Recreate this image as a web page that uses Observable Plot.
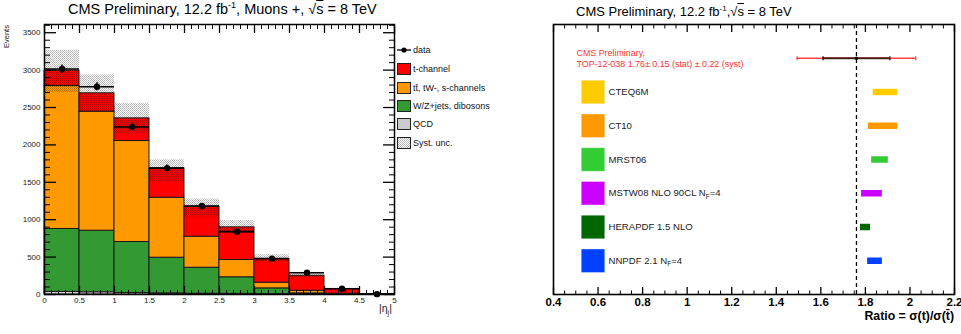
<!DOCTYPE html>
<html><head><meta charset="utf-8">
<script src="https://cdn.jsdelivr.net/npm/d3@7"></script>
<script src="https://cdn.jsdelivr.net/npm/@observablehq/plot@0.6"></script>
<style>
body{margin:0;background:#fff;font-family:"Liberation Sans",Arial,Helvetica,sans-serif;}
#wrap{position:relative;width:961px;height:334px;overflow:hidden;background:#fff}
.abs{position:absolute;white-space:nowrap;color:#000}
.leg{position:absolute;left:397px;height:12px;font-size:9px;line-height:12px;color:#111;white-space:nowrap}
.sw{position:absolute;left:0;top:0;width:14px;height:12px;box-sizing:border-box;border:1px solid #222}
.lt{position:absolute;left:16px;top:0}
</style></head><body>
<div id="wrap">
  <div id="left" style="position:absolute;left:0;top:0"></div>
  <div id="right" style="position:absolute;left:500px;top:0"></div>
  <div class="abs" style="left:68px;top:0px;font-size:14.5px;line-height:18px">CMS Preliminary, 12.2 fb<sup style="font-size:9px;line-height:0">-1</sup>, Muons +, √<span style="text-decoration:overline">s</span> = 8 TeV</div>
  <div class="abs" style="left:2px;top:21px;font-size:7.5px;transform-origin:0 0;transform:translate(0,27px) rotate(-90deg);color:#222">Events</div>
  <div class="abs" style="left:379px;top:302px;font-size:10.5px;color:#222">|η<sub style="font-size:7px">j</sub>|</div>
  <div id="legend"></div>
  <div class="abs" style="left:576px;top:4px;font-size:13px;line-height:16px">CMS Preliminary, 12.2 fb<sup style="font-size:8px;line-height:0">-1</sup>,√<span style="text-decoration:overline">s</span> = 8 TeV</div>
  <div class="abs" style="right:7px;top:309px;font-size:12.3px;font-weight:bold">Ratio = σ(t)/σ(t̄)</div>
</div>
<script>
// ---------- Left panel data ----------
const binLo = [0, 0.5, 1, 1.5, 2, 2.5, 3, 3.5, 4, 4.5];
const binHi = [0.5, 1, 1.5, 2, 2.5, 3, 3.5, 4, 4.5, 5];
const qcd   = [35, 30, 20, 15, 10, 8, 5, 3, 1, 0];
const wz    = [841, 823, 682, 477, 348, 222, 77, 12, 2, 0];
const ttbar = [1911, 1591, 1350, 802, 415, 231, 76, 35, 7, 1];
const tchan = [205, 246, 303, 393, 401, 437, 317, 201, 61, 2];
const dataVals = [3015, 2778, 2240, 1690, 1183, 840, 479, 291, 76, 5];
const dataErr  = [55, 53, 47, 41, 34, 29, 22, 17, 9, 2];
const systLo = [2700, 2445, 2155, 1505, 1040, 809, 430, 215, 55, 0];
const systHi = [3265, 2935, 2556, 1800, 1277, 987, 532, 297, 85, 5];
const processes = ["QCD", "W/Z+jets, dibosons", "tt̄, tW-, s-channels", "t-channel"];
const processColors = ["#cccccc", "#339933", "#ff9900", "#ff0000"];
const processValues = [qcd, wz, ttbar, tchan];
const yTicksLeft = [0, 500, 1000, 1500, 2000, 2500, 3000, 3500];
const xTicksLeft = [0, 0.5, 1, 1.5, 2, 2.5, 3, 3.5, 4, 4.5, 5];

// ---------- Right panel data ----------
const pdfNames  = ["CTEQ6M", "CT10", "MRST06", "MSTW08 NLO 90CL N_F=4", "HERAPDF 1.5 NLO", "NNPDF 2.1 N_F=4"];
const pdfRow    = [2, 3, 4, 5, 6, 7];
const pdfLo     = [1.835, 1.813, 1.828, 1.783, 1.778, 1.810];
const pdfHi     = [1.945, 1.945, 1.903, 1.876, 1.823, 1.876];
const pdfColors = ["#ffcc00", "#ff9900", "#33cc33", "#cc00ff", "#006600", "#0040ff"];
const measValue = 1.76, measStat = 0.15, measSyst = 0.22, measRow = 1;
const measText = "CMS Preliminary,\nTOP-12-038 1.76± 0.15 (stat) ± 0.22 (syst)";
const xTicksRight = [0.4, 0.6, 0.8, 1, 1.2, 1.4, 1.6, 1.8, 2, 2.2];

// ---------- build tables ----------
const stackRows = [];
processes.forEach((p, j) => binLo.forEach((lo, i) => stackRows.push({lo, hi: binHi[i], v: processValues[j][i], p, c: processColors[j]})));
const bins = binLo.map((lo, i) => ({lo, hi: binHi[i], mid: (lo + binHi[i]) / 2, d: dataVals[i], e: dataErr[i], s1: systLo[i], s2: systHi[i]}));
const minorY = d3.range(0, 3601, 100).filter(v => v % 500 !== 0);
const minorX = d3.range(0, 51, 1).map(v => v / 10).filter(v => (v * 10) % 5 !== 0);

const patternDef = '<pattern id="ID" width="2" height="2" patternUnits="userSpaceOnUse"><rect x="0" y="0" width="1" height="1" fill="#000" fill-opacity="0.3"/><rect x="1" y="1" width="1" height="1" fill="#000" fill-opacity="0.24"/></pattern>';

const font = "Liberation Sans, Arial, Helvetica, sans-serif";
const left = Plot.plot({
  width: 520, height: 334, marginLeft: 44, marginRight: 126, marginTop: 24, marginBottom: 40,
  style: {fontFamily: font, background: "transparent", overflow: "visible"},
  x: {domain: [0, 5]},
  y: {domain: [0, 3610]},
  marks: [
    Plot.rectY(stackRows, {x1: "lo", x2: "hi", y: "v", fill: "c", stroke: "#1a1a1a", strokeWidth: 1}),
    Plot.rectY(bins, {x1: "lo", x2: "hi", y1: "s1", y2: "s2", fill: "url(#dots)"}),
    Plot.ruleY(bins, {y: "d", x1: "lo", x2: "hi", stroke: "#000", strokeWidth: 1.6}),
    Plot.ruleX(bins, {x: "mid", y1: d => d.d - d.e, y2: d => d.d + d.e, stroke: "#000", strokeWidth: 1.6}),
    Plot.dot(bins, {x: "mid", y: "d", r: 3.2, fill: "#000"}),
    Plot.axisY({ticks: yTicksLeft, tickSize: 0, tickPadding: 4, fontSize: 8, label: null, fill: "#222", tickFormat: d => String(d)}),
    Plot.axisY({ticks: yTicksLeft, tickSize: -12, tickFormat: () => "", label: null, strokeWidth: 1.3}),
    Plot.axisY({ticks: minorY, tickSize: -6, tickFormat: () => "", label: null}),
    Plot.axisY({anchor: "right", ticks: yTicksLeft, tickSize: -12, tickFormat: () => "", label: null, strokeWidth: 1.3}),
    Plot.axisY({anchor: "right", ticks: minorY, tickSize: -6, tickFormat: () => "", label: null}),
    Plot.axisX({ticks: xTicksLeft, tickSize: 0, tickPadding: 3, fontSize: 8, label: null, fill: "#222", tickFormat: d => String(d)}),
    Plot.axisX({ticks: xTicksLeft, tickSize: -8, tickFormat: () => "", label: null, strokeWidth: 1.3}),
    Plot.axisX({ticks: minorX, tickSize: -4, tickFormat: () => "", label: null}),
    Plot.axisX({anchor: "top", ticks: xTicksLeft, tickSize: -8, tickFormat: () => "", label: null, strokeWidth: 1.3}),
    Plot.axisX({anchor: "top", ticks: minorX, tickSize: -4, tickFormat: () => "", label: null}),
    Plot.frame({stroke: "#000", strokeWidth: 1.5})
  ]
});
left.insertAdjacentHTML("afterbegin", '<defs>' + patternDef.replace("ID", "dots") + '</defs>');
document.getElementById("left").appendChild(left);

// legend (left panel)
const legItems = [
  {t: "data", type: "data", y: 50},
  {t: processes[3], c: processColors[3], y: 69},
  {t: processes[2], c: processColors[2], y: 88},
  {t: processes[1], c: processColors[1], y: 106},
  {t: processes[0], c: processColors[0], y: 124},
  {t: "Syst. unc.", type: "syst", y: 143}
];
const leg = document.getElementById("legend");
legItems.forEach(it => {
  const d = document.createElement("div");
  d.className = "leg";
  d.style.top = (it.y - 6) + "px";
  let sw;
  if (it.type === "data") {
    sw = '<svg class="sw" style="border:none" width="14" height="12"><line x1="0" x2="14" y1="6" y2="6" stroke="#000" stroke-width="1.3"/><circle cx="7" cy="6" r="2.6" fill="#000"/></svg>';
  } else if (it.type === "syst") {
    sw = '<svg class="sw" width="14" height="12"><defs>' + patternDef.replace("ID", "dots2") + '</defs><rect width="14" height="12" fill="url(#dots2)"/></svg>';
  } else {
    sw = `<div class="sw" style="background:${it.c}"></div>`;
  }
  d.innerHTML = sw + `<span class="lt">${it.t}</span>`;
  leg.appendChild(d);
});

// ---------- right panel ----------
const pdfs = pdfNames.map((name, i) => ({name, row: pdfRow[i], lo: pdfLo[i], hi: pdfHi[i], c: pdfColors[i]}));
const totErr = Math.sqrt(measStat * measStat + measSyst * measSyst);
const meas = [{v: measValue, row: measRow, t: measText, lo: measValue - totErr, hi: measValue + totErr, slo: measValue - measStat, shi: measValue + measStat}];
const capsTot = [{x: meas[0].lo}, {x: meas[0].hi}];
const capsStat = [{x: meas[0].slo}, {x: meas[0].shi}];
const vbar = {draw(ctx, size) { const h = Math.sqrt(size) / 2; ctx.moveTo(0, -h); ctx.lineTo(0, h); }};
const minorXR = d3.range(8, 45, 1).map(v => v / 20).filter(v => Math.round(v * 20) % 4 !== 0);

const right = Plot.plot({
  width: 461, height: 334, marginLeft: 53, marginRight: 7, marginTop: 24, marginBottom: 40,
  style: {fontFamily: font, background: "transparent", overflow: "visible"},
  x: {domain: [0.4, 2.2]},
  y: {domain: [0, 8], reverse: true, axis: null},
  marks: [
    Plot.ruleX([measValue], {stroke: "#000", strokeWidth: 1.3, strokeDasharray: "4,3"}),
    Plot.ruleY(meas, {y: "row", x1: "lo", x2: "hi", stroke: "#ff4444", strokeWidth: 1.5}),
    Plot.ruleY(meas, {y: "row", x1: "slo", x2: "shi", stroke: "#4a1c1c", strokeWidth: 1.8}),
    Plot.dot(capsTot, {x: "x", y: () => measRow, symbol: vbar, r: 2.3, stroke: "#ff4444", strokeWidth: 1.3}),
    Plot.dot(capsStat, {x: "x", y: () => measRow, symbol: vbar, r: 2.3, stroke: "#2a1010", strokeWidth: 1.3}),
    Plot.dot(meas, {x: "v", y: "row", r: 1.8, fill: "#000"}),
    Plot.text(meas, {y: "row", text: "t", frameAnchor: "left", dx: 23, textAnchor: "start", fill: "#ff3333", fontSize: 8.9, lineHeight: 1.15}),
    Plot.ruleY(pdfs, {y: "row", x1: "lo", x2: "hi", stroke: "c", strokeWidth: 6.5}),
    Plot.dot(pdfs, {y: "row", frameAnchor: "left", dx: 39.5, symbol: "square", r: 13.3, fill: "c", stroke: "#fff", strokeOpacity: 0.4, strokeWidth: 1}),
    Plot.text(pdfs, {y: "row", text: "name", frameAnchor: "left", dx: 55, textAnchor: "start", fontSize: 9.6, fill: "#222"}),
    Plot.axisX({ticks: xTicksRight, tickSize: 0, tickPadding: 3, fontSize: 11.5, fontWeight: "bold", label: null, fill: "#000", tickFormat: d => String(d)}),
    Plot.axisX({ticks: xTicksRight, tickSize: -7, tickFormat: () => "", label: null, strokeWidth: 1.3}),
    Plot.axisX({ticks: minorXR, tickSize: -3.5, tickFormat: () => "", label: null}),
    Plot.axisX({anchor: "top", ticks: xTicksRight, tickSize: -7, tickFormat: () => "", label: null, strokeWidth: 1.3}),
    Plot.axisX({anchor: "top", ticks: minorXR, tickSize: -3.5, tickFormat: () => "", label: null}),
    Plot.frame({stroke: "#000", strokeWidth: 1.6})
  ]
});
// subscript F in N_F
right.querySelectorAll("text").forEach(t => {
  if (t.children.length === 0 && t.textContent.includes("_F")) {
    const [a, b] = t.textContent.split("_F");
    t.textContent = "";
    const ns = "http://www.w3.org/2000/svg";
    const s1 = document.createElementNS(ns, "tspan"); s1.textContent = a;
    const s2 = document.createElementNS(ns, "tspan"); s2.textContent = "F"; s2.setAttribute("dy", "2.5"); s2.setAttribute("font-size", "6.5");
    const s3 = document.createElementNS(ns, "tspan"); s3.textContent = b; s3.setAttribute("dy", "-2.5");
    t.append(s1, s2, s3);
  }
});
document.getElementById("right").appendChild(right);
</script>
</body></html>
